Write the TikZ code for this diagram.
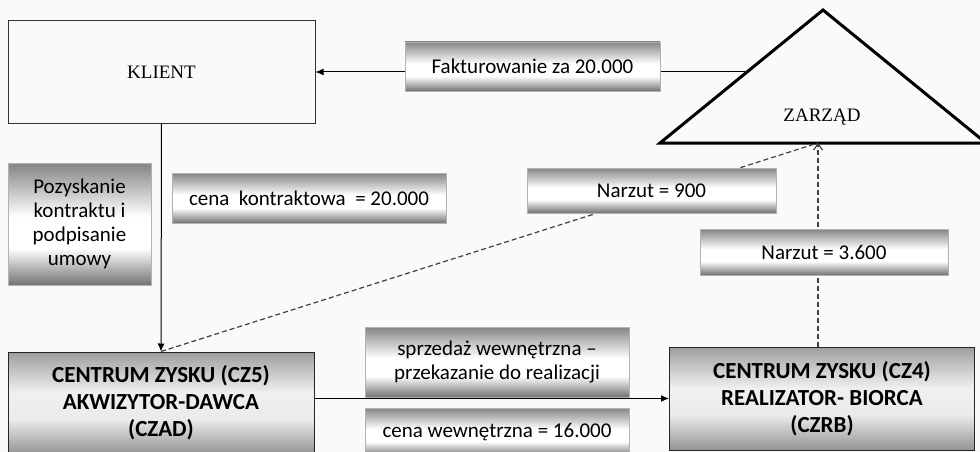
\documentclass[tikz,border=0pt]{standalone}
\usepackage{fontspec}
\setmainfont{Liberation Serif}
\setsansfont{Carlito}
\usepackage{tikz}
\usetikzlibrary{arrows.meta}

% gradients: 25bp = bottom edge, 75bp = top edge
\pgfdeclareverticalshading{labshade}{100bp}{color(0bp)=(black!55); color(25bp)=(black!55);
    color(40bp)=(white); color(53bp)=(white); color(75bp)=(black!48); color(100bp)=(black!48)}
\pgfdeclareverticalshading{boxshade}{100bp}{color(0bp)=(black!42); color(25bp)=(black!42);
    color(42bp)=(black!8); color(55bp)=(black!6); color(75bp)=(black!38); color(100bp)=(black!38)}

\begin{document}
\begin{tikzpicture}[x=1pt,y=-1pt,
        lab/.style={draw=black!30,shading=labshade,
            font=\sffamily\fontsize{21}{24}\selectfont,align=center,inner sep=0pt},
        centrum/.style={draw=black!85,line width=1pt,shading=boxshade,
            font=\sffamily\bfseries\fontsize{23}{27}\selectfont,align=center,inner sep=0pt},
        plain/.style={draw=black!80,line width=1pt,fill=black!2,font=\fontsize{19}{22}\selectfont,inner sep=0pt},
        solid arrow/.style={line width=1pt,-{Latex[length=8pt,width=7pt]}},
        dash arrow/.style={line width=1.2pt,black!75,dash pattern=on 5pt off 3pt}]
        \fill[black!2] (0,0) rectangle (980,452);
        \useasboundingbox (0,0) rectangle (980,452);
        % zarzad
        \draw[line width=3pt,line join=miter] (660,143) -- (823,10) -- (986,143) -- cycle;
        \node (zarzad) at (822,117) {\fontsize{19}{22}\selectfont ZARZĄD};
        \coordinate (zl) at (745,72);
        \coordinate (zb) at (818,143);
        % boxes
        \node[plain,minimum width=307pt,minimum height=102pt] (klient) at (161.5,72) {KLIENT};
        \node[centrum,minimum width=306pt,minimum height=102pt] (czad) at (161,403) {CENTRUM ZYSKU (CZ5)\\AKWIZYTOR-DAWCA\\(CZAD)};
        \node[centrum,minimum width=305pt,minimum height=103pt] (czrb) at (822,398.5) {CENTRUM ZYSKU (CZ4)\\REALIZATOR- BIORCA\\(CZRB)};
        % connectors
        \draw[solid arrow] (zl) -- (klient.east);
        \draw[solid arrow] (klient.south) -- (czad.north);
        \draw[solid arrow] (czad.east |- czrb.west) -- (czrb.west);
        \draw[dash arrow] (czad.north) -- (zb);
        \draw[dash arrow,-{Straight Barb[length=6pt,width=9pt]}] (czrb.north -| zb) -- (zb);
        % labels
        \node[lab,minimum width=255pt,minimum height=49pt] (faktura) at (532.5,66.5) {Fakturowanie za 20.000};
        \node[lab,minimum width=143pt,minimum height=122pt] (pozysk) at (79.5,224) {Pozyskanie\\kontraktu i\\podpisanie\\umowy};
        \node[lab,minimum width=274pt,minimum height=50pt] (kontrakt) at (309,198) {cena~ kontraktowa~ = 20.000};
        \node[lab,minimum width=249pt,minimum height=45pt] (narzut5) at (651.5,190.5) {Narzut = 900};
        \node[lab,minimum width=248pt,minimum height=46pt] (narzut4) at (824,252) {Narzut = 3.600};
        \node[lab,minimum width=264pt,minimum height=70pt] (sprzedaz) at (497,362) {sprzedaż wewnętrzna --\\przekazanie do realizacji};
        \node[lab,minimum width=264pt,minimum height=48pt] (cenawew) at (497,432) {cena wewnętrzna = 16.000};
    \end{tikzpicture}
\end{document}
